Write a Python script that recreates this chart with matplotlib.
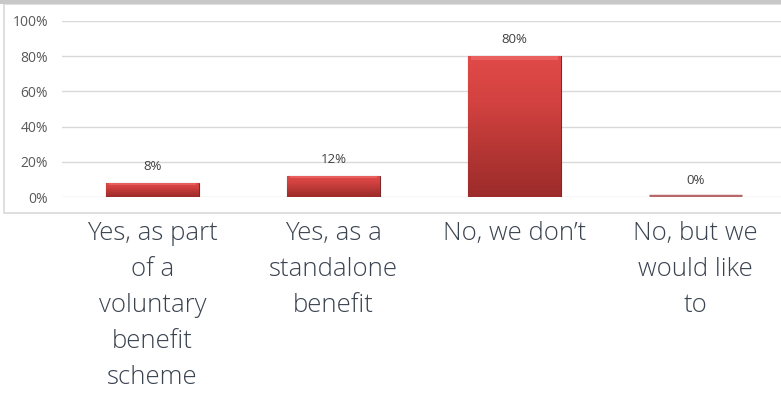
import matplotlib.pyplot as plt
import numpy as np
from matplotlib.patches import Rectangle
from matplotlib.colors import LinearSegmentedColormap

categories = [
    "Yes, as part\nof a\nvoluntary\nbenefit\nscheme",
    "Yes, as a\nstandalone\nbenefit",
    "No, we don\u2019t",
    "No, but we\nwould like\nto",
]
values = [8, 12, 80, 0]
value_labels = ["8%", "12%", "80%", "0%"]
yticks = [0, 20, 40, 60, 80, 100]

W, H = 781, 396
fig = plt.figure(figsize=(W / 100, H / 100), dpi=100)
fig.patch.set_facecolor("white")

# outer chart frame and the grey strip along the top
fig.patches.append(Rectangle((4 / W, (H - 213) / H), 1, 209 / H, transform=fig.transFigure,
                             facecolor="white", edgecolor="#d9d9d9", lw=1.2, zorder=0))
fig.patches.append(Rectangle((0, (H - 4) / H), 1, 4 / H, transform=fig.transFigure,
                             facecolor="#c8c8c8", edgecolor="none", zorder=1))

# plot area: 0% at y=197px, 100% at y=21px, categories 181px wide from x=62
ax = fig.add_axes([62 / W, (H - 197) / H, 724 / W, 176 / H])
ax.set_zorder(5)
ax.set_facecolor("none")
x = np.arange(len(values))
ax.set_xlim(-0.5, len(values) - 0.5)
ax.set_ylim(0, 100)

for y in yticks:
    ax.axhline(y, color="#d9d9d9", lw=1, zorder=0)

bars = ax.bar(x, values, width=0.51, color="#c83a3a", edgecolor="#7a2a2a", lw=0.8, zorder=2)

red = LinearSegmentedColormap.from_list("bevel", ["#e04a48", "#d24240", "#b53634", "#9c2c2a"])
grad = np.linspace(0, 1, 64).reshape(-1, 1)
for b in bars:
    h = b.get_height()
    if h <= 0:
        continue
    x0, w = b.get_x(), b.get_width()
    im = ax.imshow(grad, cmap=red, aspect="auto", extent=(x0, x0 + w, 0, h),
                   origin="upper", zorder=2.5)
    im.set_clip_path(b)
    # light bevel band along the top edge
    ax.add_patch(Rectangle((x0 + w * 0.03, h - min(h * 0.12, 2.2)), w * 0.94, min(h * 0.12, 2.2),
                           facecolor="#f07070", edgecolor="none", alpha=0.6, zorder=3))

# the zero bar shows as a thin flat stripe
for b in bars:
    if b.get_height() <= 0:
        ax.plot([b.get_x(), b.get_x() + b.get_width()], [0.5, 0.5], color="#b86868",
                lw=2.5, solid_capstyle="butt", zorder=3)

for xi, v, lab in zip(x, values, value_labels):
    ax.annotate(lab, (xi, v), xytext=(0, 7), textcoords="offset points", ha="center",
                va="bottom", fontsize=9.5, color="#404040", family="Open Sans")

ax.set_yticks(yticks)
ax.set_yticklabels([f"{t}%" for t in yticks], fontsize=10, color="#595959", family="Open Sans")
ax.tick_params(axis="y", length=0, pad=10)
ax.set_xticks([])
for s in ax.spines.values():
    s.set_visible(False)

# category names sit below the chart frame
for xi, cat in zip(x, categories):
    fx = (62 + 181 * (xi + 0.5)) / W
    fig.text(fx, 1 - 221 / H, cat, ha="center", va="top", fontsize=18.5, color="#3a4350",
             family="Open Sans", fontweight="light", linespacing=1.58)

fig.savefig("out.png", dpi=100)
